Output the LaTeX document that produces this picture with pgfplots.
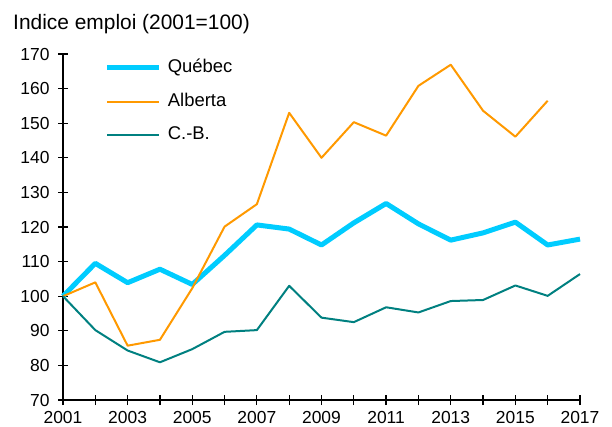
\documentclass[border=0pt]{standalone}
\usepackage{fontspec}
\setmainfont{Liberation Sans}
\usepackage{pgfplots}
\pgfplotsset{compat=1.18}
\definecolor{qc}{HTML}{00CCFF}
\definecolor{ab}{HTML}{FF9900}
\definecolor{cb}{HTML}{008080}
\begin{document}
\begin{tikzpicture}[x=1bp,y=1bp]
\useasboundingbox (-63bp,-27bp) rectangle (549bp,400bp);
\begin{axis}[
  at={(0bp,0bp)}, anchor=south west,
  width=517bp, height=346bp, scale only axis,
  xmin=2001, xmax=2017, ymin=70, ymax=170,
  axis x line*=bottom, axis y line*=left,
  axis line style={black, line width=1.5bp, -},
  xtick={2001,...,2017},
  xticklabels={2001,,2003,,2005,,2007,,2009,,2011,,2013,,2015,,2017},
  ytick={70,80,...,170},
  tick align=center, major tick length=10bp,
  tick style={black, line width=1.2bp},
  /pgf/number format/assume math mode=true,
  ticklabel style={font=\fontsize{17.5}{20}\selectfont},
  yticklabel style={xshift=-5bp},
  xticklabel style={yshift=-2.5bp},
  clip=false,
  legend cell align=left,
  legend image code/.code={\draw[#1] (0bp,0bp) -- (52bp,0bp);},
  legend style={draw=none, fill=none, inner sep=0pt, outer sep=0pt,
    at={(axis description cs:0.081,0.985)}, anchor=north west,
    font=\fontsize{18.5}{21}\selectfont,
    nodes={inner sep=0pt, text height=13.5bp, text depth=4bp},
    row sep=16.1bp, column sep=6bp},
]
\addplot[qc, line width=5bp, line join=round] coordinates {
(2001,100) (2002,109.5) (2003,103.9) (2004,107.8) (2005,103.4) (2006,111.8)
(2007,120.6) (2008,119.4) (2009,114.8) (2010,121.2) (2011,126.8) (2012,120.9)
(2013,116.2) (2014,118.3) (2015,121.4) (2016,114.8) (2017,116.5)};
\addlegendentry{Québec}
\addplot[ab, line width=2bp, line join=round] coordinates {
(2001,100) (2002,104.0) (2003,85.7) (2004,87.4) (2005,102.3) (2006,120.1)
(2007,126.6) (2008,153.0) (2009,140.0) (2010,150.3) (2011,146.4) (2012,160.8)
(2013,166.9) (2014,153.6) (2015,146.1) (2016,156.5)};
\addlegendentry{Alberta}
\addplot[cb, line width=2bp, line join=round] coordinates {
(2001,100) (2002,90.2) (2003,84.3) (2004,80.9) (2005,84.7) (2006,89.7)
(2007,90.2) (2008,103.0) (2009,93.8) (2010,92.5) (2011,96.8) (2012,95.3)
(2013,98.6) (2014,98.9) (2015,103.1) (2016,100.1) (2017,106.4)};
\addlegendentry{C.-B.}
\end{axis}
\node[anchor=base west, inner sep=0pt, font=\fontsize{21}{24}\selectfont] at (-50bp,370.7bp) {Indice emploi (2001=100)};
\end{tikzpicture}
\end{document}
